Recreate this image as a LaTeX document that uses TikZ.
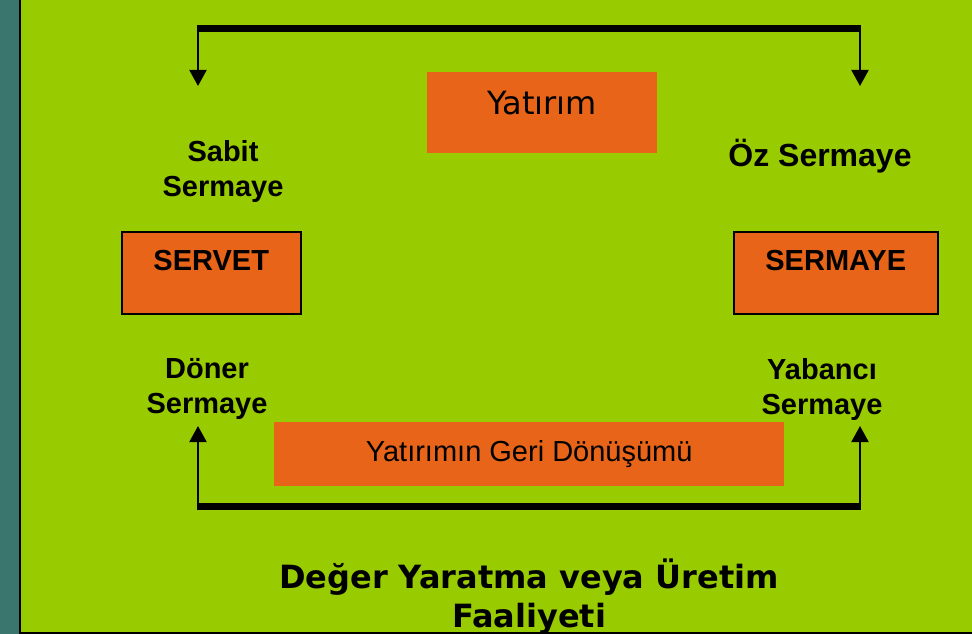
\documentclass[tikz,border=0pt]{standalone}
\usepackage{fontspec}
\setmainfont{Liberation Sans}
\newfontfamily\dejavu{DejaVu Sans}
\usetikzlibrary{arrows.meta}
\definecolor{slidegreen}{HTML}{99CC00}
\definecolor{slideteal}{HTML}{3A766E}
\definecolor{boxorange}{HTML}{E86418}
\tikzset{
  lbl/.style={align=center,inner sep=0pt,font=\bfseries\fontsize{29}{35}\selectfont},
  box/.style={fill=boxorange,inner sep=0pt,anchor=north west},
  arr/.style={line width=2pt,-{Triangle[length=16pt,width=17pt]}},
  bar/.style={line width=7pt}
}
\begin{document}
\begin{tikzpicture}[x=1pt,y=-1pt]
        \useasboundingbox (0,0) rectangle (972,634);
        % background of the slide
        \fill[slidegreen] (0,0) rectangle (972,634);
        \fill[slideteal] (0,0) rectangle (19,634);
        \draw[line width=2pt] (20,0) -- (20,634);
        \draw[line width=2pt] (19,633) -- (972,633);
        % boxes
        \node[box,minimum width=230pt,text height=42pt,text depth=39pt] (yatirim) at (427,72)
          {\dejavu\fontsize{32}{38}\selectfont Yatırım};
        \node[box,draw=black,line width=1.5pt,minimum width=179pt,text height=39pt,text depth=43pt]
          (servet) at (121,231) {\bfseries\fontsize{29}{35}\selectfont SERVET};
        \node[box,draw=black,line width=1.5pt,minimum width=204pt,text height=39pt,text depth=43pt]
          (sermaye) at (733,231) {\bfseries\fontsize{29}{35}\selectfont SERMAYE};
        \node[box,minimum width=510pt,text height=39pt,text depth=25pt] (geri) at (274,422)
          {\fontsize{29}{35}\selectfont Yatırımın Geri Dönüşümü};
        % labels
        \node[lbl] (sabit) at (223,172) {Sabit\\Sermaye};
        \node[lbl,font=\bfseries\fontsize{32}{38}\selectfont] (oz) at (820,156) {Öz Sermaye};
        \node[lbl] (doner) at (207,389) {Döner\\Sermaye};
        \node[lbl] (yabanci) at (822,389) {Yabancı\\Sermaye};
        \node[align=center,inner sep=0pt,font=\dejavu\bfseries\fontsize{32}{39}\selectfont]
          (faaliyet) at (529,597) {Değer Yaratma veya Üretim\\Faaliyeti};
        % brackets
        \coordinate (tl) at (198,29);
        \coordinate (tr) at (860,29);
        \coordinate (bl) at (198,506);
        \coordinate (br) at (860,506);
        \draw[bar] ([xshift=-1pt]tl) -- ([xshift=1pt]tr);
        \draw[bar] ([xshift=-1pt]bl) -- ([xshift=1pt]br);
        \draw[arr] (tl) -- (tl |- 0,86);
        \draw[arr] (tr) -- (tr |- 0,86);
        \draw[arr] (bl) -- (bl |- 0,426);
        \draw[arr] (br) -- (br |- 0,426);
\end{tikzpicture}
\end{document}
